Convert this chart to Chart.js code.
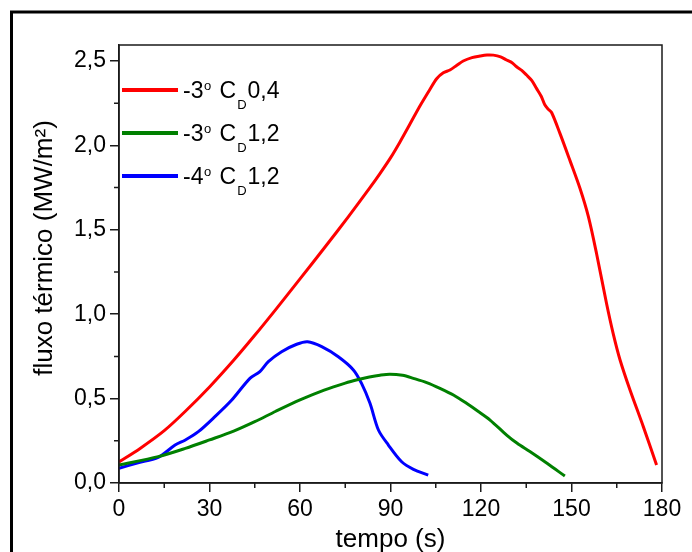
<!DOCTYPE html>
<html lang="pt-br">
<head>
    <meta charset="UTF-8"/>
    <title>Fluxo térmico x tempo</title>
    <script src="https://cdn.jsdelivr.net/npm/chart.js"></script>
    <style>
        html, body { margin: 0; padding: 0; background: #fff; overflow: hidden; }
        #graficoFluxo { display: block; }
    </style>
</head>
<body>
<canvas id="graficoFluxo" width="692" height="552"></canvas>

<script>
    // Curva -3º CD 0,4 (vermelha)
    const tempoA = [0, 7, 15, 22, 30, 38, 45, 52, 60, 68.3, 76, 83, 86.5, 90, 93.1, 96.5, 99.8, 103, 105.3, 107.5, 109.7, 112, 114.1, 117, 119.7, 122, 124.1, 126.5, 128.5, 130.3, 131.8, 133.5, 135.1, 136.8, 138.4, 140, 141.2, 142.3, 143.4, 146.2, 149.5, 152.8, 155.6, 158.3, 161.6, 163.8, 166.1, 169.4, 173.8, 178.2];
    const fluxoA = [0.125, 0.205, 0.31, 0.425, 0.569, 0.727, 0.875, 1.029, 1.209, 1.398, 1.577, 1.745, 1.833, 1.926, 2.019, 2.128, 2.235, 2.33, 2.395, 2.43, 2.447, 2.475, 2.50, 2.52, 2.53, 2.536, 2.535, 2.525, 2.506, 2.49, 2.466, 2.445, 2.417, 2.385, 2.338, 2.29, 2.239, 2.215, 2.195, 2.07, 1.91, 1.746, 1.578, 1.36, 1.065, 0.887, 0.729, 0.551, 0.334, 0.107];

    // Curva -3º CD 1,2 (verde)
    const tempoB = [0, 13, 22, 30, 38, 45, 52, 60, 68, 75, 79.3, 83, 86.5, 89.8, 94, 97.6, 102, 106.4, 111, 115.2, 119, 123, 128.5, 132, 136.2, 142, 147.8];
    const fluxoB = [0.107, 0.156, 0.205, 0.255, 0.307, 0.363, 0.425, 0.492, 0.55, 0.592, 0.613, 0.628, 0.639, 0.645, 0.638, 0.62, 0.595, 0.561, 0.52, 0.472, 0.425, 0.373, 0.284, 0.235, 0.186, 0.115, 0.041];

    // Curva -4º CD 1,2 (azul)
    const tempoC = [0, 6, 13, 18.6, 22, 26.3, 31.8, 37.3, 43.4, 46.7, 49.5, 53.9, 58.9, 62.5, 67.2, 72.7, 77.7, 80.4, 83.2, 86, 89.3, 93.7, 97.6, 102.5];
    const fluxoC = [0.087, 0.118, 0.152, 0.225, 0.255, 0.304, 0.393, 0.49, 0.62, 0.66, 0.719, 0.778, 0.822, 0.837, 0.808, 0.748, 0.67, 0.59, 0.472, 0.314, 0.225, 0.126, 0.081, 0.047];

    // Legenda: ângulo e CD de cada curva
    const angulos = ['-3', '-3', '-4'];
    const coeficientes = ['0,4', '1,2', '1,2'];
    const cores = ['#ff0000', '#008000', '#0000ff'];

    // Marcas dos eixos (principais e secundárias)
    const ticksX = [0, 15, 30, 45, 60, 75, 90, 105, 120, 135, 150, 165, 180];
    const ticksY = [0, 0.25, 0.5, 0.75, 1.0, 1.25, 1.5, 1.75, 2.0, 2.25, 2.5];

    const tituloY = 'fluxo térmico (MW/m²)';
    const fonte = 'Liberation Sans, Arial, sans-serif';
    const corEixo = '#1a1a1a';

    function pontos(xs, ys) {
        return xs.map((x, i) => ({ x: x, y: ys[i] }));
    }

    function principalX(v) { return v % 30 === 0; }
    function principalY(v) { return Math.abs(v * 2 - Math.round(v * 2)) < 1e-6; }

    // Desenha moldura externa, bordas do gráfico, marcas menores, título Y e a legenda
    const molduraPlugin = {
        id: 'moldura',
        afterDraw(chart) {
            const ctx = chart.ctx;
            const area = chart.chartArea;
            const sx = chart.scales.x;
            const sy = chart.scales.y;
            ctx.save();

            // moldura externa preta (só esquerda e topo aparecem)
            ctx.strokeStyle = '#000';
            ctx.lineWidth = 3;
            ctx.beginPath();
            ctx.moveTo(11.5, 560);
            ctx.lineTo(11.5, 12);
            ctx.lineTo(700, 12);
            ctx.stroke();

            // borda do gráfico
            ctx.strokeStyle = corEixo;
            ctx.lineWidth = 1.5;
            ctx.strokeRect(area.left, area.top, area.right - area.left, area.bottom - area.top);

            // marcas secundárias
            ctx.beginPath();
            ticksX.filter(v => !principalX(v)).forEach(v => {
                const px = sx.getPixelForValue(v);
                ctx.moveTo(px, area.bottom);
                ctx.lineTo(px, area.bottom + 5);
            });
            ticksY.filter(v => !principalY(v)).forEach(v => {
                const py = sy.getPixelForValue(v);
                ctx.moveTo(area.left, py);
                ctx.lineTo(area.left - 5, py);
            });
            ctx.stroke();

            // título do eixo Y
            ctx.save();
            ctx.translate(45, 248);
            ctx.rotate(-Math.PI / 2);
            ctx.fillStyle = '#000';
            ctx.font = '26px ' + fonte;
            ctx.textAlign = 'center';
            ctx.textBaseline = 'middle';
            ctx.fillText(tituloY, 0, 0);
            ctx.restore();

            // legenda
            const legY = [90, 133, 176];
            chart.data.datasets.forEach((ds, i) => {
                const y = legY[i];
                ctx.strokeStyle = ds.borderColor;
                ctx.lineWidth = 4;
                ctx.beginPath();
                ctx.moveTo(122, y);
                ctx.lineTo(178, y);
                ctx.stroke();

                ctx.fillStyle = '#000';
                ctx.textBaseline = 'alphabetic';
                ctx.textAlign = 'left';
                let x = 183;
                const base = y + 7.5;
                ctx.font = '23px ' + fonte;
                ctx.fillText(angulos[i], x, base);
                x += ctx.measureText(angulos[i]).width + 0.5;
                ctx.font = '13px ' + fonte;
                ctx.fillText('o', x, base - 8);
                x += ctx.measureText('o').width;
                ctx.font = '23px ' + fonte;
                x += ctx.measureText(' ').width + 2;
                ctx.fillText('C', x, base);
                x += ctx.measureText('C').width + 1;
                ctx.font = '13px ' + fonte;
                ctx.fillText('D', x, base + 11);
                x += ctx.measureText('D').width + 1;
                ctx.font = '23px ' + fonte;
                ctx.fillText(coeficientes[i], x, base);
            });
            ctx.restore();
        }
    };

    const data = {
        datasets: [
            {
                label: '-3º CD0,4',
                data: pontos(tempoA, fluxoA),
                borderColor: cores[0]
            },
            {
                label: '-3º CD1,2',
                data: pontos(tempoB, fluxoB),
                borderColor: cores[1]
            },
            {
                label: '-4º CD1,2',
                data: pontos(tempoC, fluxoC),
                borderColor: cores[2]
            }
        ]
    };
    data.datasets.forEach(ds => {
        ds.borderWidth = 3;
        ds.pointRadius = 0;
        ds.fill = false;
        ds.tension = 0.3;
    });

    const config = {
        type: 'line',
        data: data,
        options: {
            responsive: false,
            animation: false,
            events: [],
            layout: { padding: { left: 0, top: 45, right: 30, bottom: 0 } },
            plugins: {
                legend: { display: false },
                tooltip: { enabled: false }
            },
            scales: {
                x: {
                    type: 'linear',
                    min: 0,
                    max: 180,
                    afterBuildTicks: (scale) => { scale.ticks = ticksX.map(v => ({ value: v })); },
                    afterFit: (scale) => { scale.height = 69; },
                    border: { display: true, color: corEixo, width: 1.5 },
                    grid: {
                        drawOnChartArea: false,
                        tickLength: 9,
                        lineWidth: 1.5,
                        tickColor: (c) => principalX(c.tick.value) ? corEixo : 'rgba(0,0,0,0)'
                    },
                    ticks: {
                        autoSkip: false,
                        maxRotation: 0,
                        padding: 4,
                        color: '#000',
                        font: { family: fonte, size: 23 },
                        callback: (v) => principalX(v) ? String(v) : ''
                    },
                    title: {
                        display: true,
                        text: 'tempo (s)',
                        color: '#000',
                        font: { family: fonte, size: 26, lineHeight: 1 },
                        padding: { top: 0, bottom: -1 }
                    }
                },
                y: {
                    min: 0,
                    max: 2.595,
                    afterBuildTicks: (scale) => { scale.ticks = ticksY.map(v => ({ value: v })); },
                    afterFit: (scale) => { scale.width = 119; },
                    border: { display: true, color: corEixo, width: 1.5 },
                    grid: {
                        drawOnChartArea: false,
                        tickLength: 9,
                        lineWidth: 1.5,
                        tickColor: (c) => principalY(c.tick.value) ? corEixo : 'rgba(0,0,0,0)'
                    },
                    ticks: {
                        autoSkip: false,
                        padding: 4,
                        color: '#000',
                        font: { family: fonte, size: 23 },
                        callback: (v) => principalY(v) ? v.toFixed(1).replace('.', ',') : ''
                    },
                    title: { display: false }
                }
            }
        },
        plugins: [molduraPlugin]
    };

    const ctx = document.getElementById('graficoFluxo').getContext('2d');
    new Chart(ctx, config);
</script>
</body>
</html>
